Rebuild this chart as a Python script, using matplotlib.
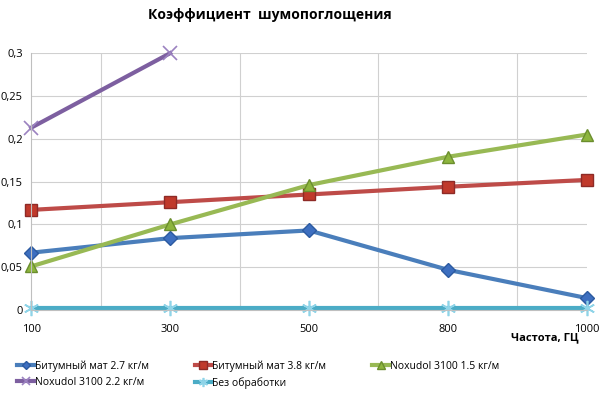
import matplotlib.pyplot as plt
import numpy as np

plt.rcParams['font.family'] = ['Open Sans', 'DejaVu Sans']

freqs = ["100", "300", "500", "800", "1000"]
bit_27 = [0.067, 0.084, 0.093, 0.047, 0.014]
bit_38 = [0.117, 0.126, 0.135, 0.144, 0.152]
nox_15 = [0.051, 0.100, 0.146, 0.179, 0.205]
nox_22 = [0.213, 0.300]
none = [0.002, 0.002, 0.002, 0.002, 0.002]

names = ["Битумный мат 2.7 кг/м", "Битумный мат 3.8 кг/м", "Noxudol 3100 1.5 кг/м",
         "Noxudol 3100 2.2 кг/м", "Без обработки"]

x = np.arange(len(freqs))

fig = plt.figure(figsize=(6, 3.97), dpi=100)
ax = fig.add_axes([0.052, 0.219, 0.926, 0.647])

h1, = ax.plot(x, bit_27, color="#4a7ebb", lw=3, marker="D", ms=7, mfc="#3d6fc0", mec="#2c5aa0", clip_on=False)
h2, = ax.plot(x, bit_38, color="#be4b48", lw=3, marker="s", ms=9, mfc="#c0392b", mec="#8e2a26", clip_on=False)
h3, = ax.plot(x, nox_15, color="#98b954", lw=3, marker="^", ms=9, mfc="#8db53e", mec="#6b8e2e", clip_on=False)
h4, = ax.plot(x[:len(nox_22)], nox_22, color="#7d5fa0", lw=3, marker="x", ms=10, mew=1.2, mec="#9b82c0",
              clip_on=False)
h5, = ax.plot(x, none, color="#4bacc6", lw=3, marker=(6, 2, 0), ms=11, mew=1.2, mec="#8fd4e8", clip_on=False)

ax.set_xlim(0, 4)
ax.set_ylim(0, 0.3)
ax.set_yticks(np.arange(0, 0.301, 0.05))
ax.set_yticklabels(["0", "0,05", "0,1", "0,15", "0,2", "0,25", "0,3"], fontsize=8)
ax.set_xticks(x)
ax.set_xticklabels(freqs, fontsize=8)
ax.set_xticks(np.arange(0, 4.01, 0.5), minor=True)
ax.tick_params(which="both", length=0, pad=6)
ax.tick_params(axis="x", pad=10)
ax.grid(True, which="minor", axis="x", color="#d0d0d0", lw=0.8)
ax.grid(True, which="major", axis="y", color="#d0d0d0", lw=0.8)
ax.set_axisbelow(True)
for s in ["top", "right"]:
    ax.spines[s].set_visible(False)
for s in ["left", "bottom"]:
    ax.spines[s].set_color("#bfbfbf")

fig.text(0.45, 0.962, "Коэффициент  шумопоглощения", ha="center", va="center",
         fontsize=10, fontweight="bold")
fig.text(0.908, 0.148, "Частота, ГЦ", ha="center", va="center", fontsize=8, fontweight="bold")

# legend fills by column, so reorder to get rows like the original
order = [0, 3, 1, 4, 2]
hs = [h1, h2, h3, h4, h5]
fig.legend([hs[i] for i in order], [names[i] for i in order], loc="upper left",
           bbox_to_anchor=(0.02, 0.105), ncol=3, frameon=False, fontsize=7.5,
           handlelength=1.6, markerscale=0.6, columnspacing=4.4, handletextpad=0.1,
           labelspacing=0.45, borderpad=0)

fig.savefig("out.png", dpi=100)
